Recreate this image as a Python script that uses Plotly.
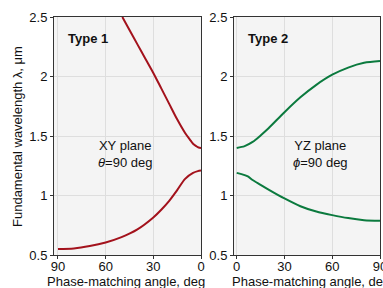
import plotly.graph_objects as go

# Type 1, XY plane (theta = 90 deg)
t1_upper_angle = [49.5, 45, 40, 35, 30, 25, 20, 15, 10, 7, 5, 3, 1.5, 0]
t1_upper_wl = [2.5, 2.39, 2.27, 2.15, 2.03, 1.90, 1.77, 1.64, 1.525, 1.47, 1.435, 1.415, 1.403, 1.40]
t1_lower_angle = [90, 80, 70, 60, 50, 40, 30, 25, 20, 15, 10, 5, 2, 0]
t1_lower_wl = [0.55, 0.555, 0.575, 0.605, 0.65, 0.715, 0.815, 0.88, 0.955, 1.045, 1.14, 1.19, 1.205, 1.21]

# Type 2, YZ plane (phi = 90 deg)
t2_upper_angle = [0, 5, 10, 15, 20, 30, 40, 50, 60, 70, 80, 90]
t2_upper_wl = [1.40, 1.415, 1.45, 1.505, 1.565, 1.70, 1.825, 1.93, 2.015, 2.075, 2.115, 2.13]
t2_lower_angle = [0, 3, 7, 10, 15, 20, 30, 40, 50, 60, 70, 80, 90]
t2_lower_wl = [1.19, 1.18, 1.16, 1.13, 1.09, 1.05, 0.975, 0.91, 0.865, 0.835, 0.81, 0.793, 0.787]

x_ticks_left = [90, 60, 30, 0]
x_ticks_right = [0, 30, 60, 90]
y_ticks = [0.5, 1, 1.5, 2, 2.5]
y_tick_text = ["0.5", "1", "1.5", "2", "2.5"]

RED = "#a3121c"
GREEN = "#0b7a3e"
FONT = "Liberation Sans, Arial, sans-serif"

W, H = 383, 288
ML, MR, MT, MB = 54, 3, 17, 33
PW, PH = W - ML - MR, H - MT - MB

fig = go.Figure()
for xs, ys in [(t1_upper_angle, t1_upper_wl), (t1_lower_angle, t1_lower_wl)]:
    fig.add_trace(go.Scatter(x=xs, y=ys, mode="lines", line=dict(color=RED, width=2, shape="spline", smoothing=0.8),
                             xaxis="x", yaxis="y", showlegend=False, hoverinfo="skip"))
for xs, ys in [(t2_upper_angle, t2_upper_wl), (t2_lower_angle, t2_lower_wl)]:
    fig.add_trace(go.Scatter(x=xs, y=ys, mode="lines", line=dict(color=GREEN, width=2, shape="spline", smoothing=0.8),
                             xaxis="x2", yaxis="y2", showlegend=False, hoverinfo="skip"))

axis_common = dict(
    showline=True, linecolor="#333333", linewidth=1, mirror=True,
    ticks="outside", ticklen=3, tickcolor="#333333", tickwidth=1,
    showgrid=True, gridcolor="#dedede", gridwidth=1, zeroline=False,
    tickfont=dict(family=FONT, size=13, color="#111111"), automargin=False,
    ticklabeloverflow="allow",
)

fig.update_layout(
    width=W, height=H,
    margin=dict(l=ML, r=MR, t=MT, b=MB, autoexpand=False),
    paper_bgcolor="white", plot_bgcolor="#f4f4f4",
    font=dict(family=FONT, size=13, color="#111111"),
    xaxis=dict(domain=[0, 147 / PW], range=[92.5, 0], tickvals=x_ticks_left,
               ticktext=[str(v) for v in x_ticks_left], anchor="y", ticklabelstandoff=-4, **axis_common),
    yaxis=dict(domain=[0, 1], range=[0.5, 2.5], tickvals=y_ticks, ticktext=y_tick_text,
               anchor="x", **axis_common),
    xaxis2=dict(domain=[180 / PW, 1.0], range=[-1.7, 90], tickvals=x_ticks_right,
                ticktext=[str(v) for v in x_ticks_right], anchor="y2", ticklabelstandoff=-4, **axis_common),
    yaxis2=dict(domain=[0, 1], range=[0.5, 2.5], tickvals=y_ticks, ticktext=y_tick_text,
                anchor="x2", **axis_common),
)

# annotations placed in pixel coordinates (converted to plot-area paper coords)
annots = [
    dict(x=88, y=38, text="<b>Type 1</b>", angle=0),
    dict(x=125, y=154, text="XY plane<br><i>θ</i>=90 deg", angle=0),
    dict(x=268, y=38, text="<b>Type 2</b>", angle=0),
    dict(x=320, y=154, text="YZ plane<br><i>ϕ</i>=90 deg", angle=0),
    dict(x=126, y=281, text="Phase-matching angle, deg", angle=0),
    dict(x=311, y=281, text="Phase-matching angle, deg", angle=0),
    dict(x=17, y=137, text="Fundamental wavelength λ, μm", angle=-90),
]
for a in annots:
    fig.add_annotation(x=(a["x"] - ML) / PW, y=1 - (a["y"] - MT) / PH, xref="paper", yref="paper",
                       text=a["text"], showarrow=False, xanchor="center", yanchor="middle",
                       textangle=a["angle"], font=dict(family=FONT, size=13, color="#111111"))

fig.write_html("out.html", config={"displayModeBar": False},
               post_script="document.body.style.margin='0';document.body.style.overflow='hidden';")
